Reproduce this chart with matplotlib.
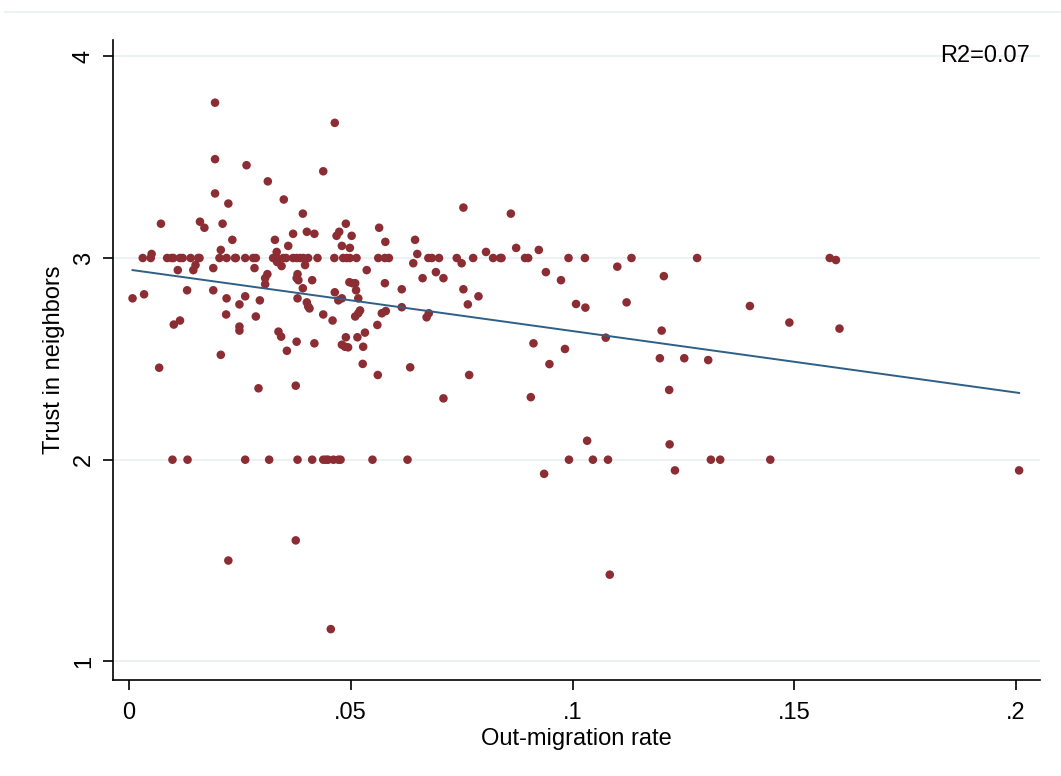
import matplotlib
matplotlib.use("Agg")
import matplotlib.pyplot as plt
from matplotlib.lines import Line2D
import matplotlib.transforms as mtransforms
import numpy as np

# ---- data ----
upper_x = [0.0194, 0.0194, 0.0265, 0.0313, 0.0194, 0.0349, 0.0224, 0.0072, 0.0160, 0.0170,
           0.0211, 0.0370, 0.0233, 0.0329, 0.0359, 0.0207, 0.0333, 0.0051, 0.0464, 0.0438,
           0.0754, 0.0392, 0.0489, 0.0401, 0.0418, 0.0468, 0.0474, 0.0502, 0.0564, 0.0480,
           0.0498, 0.0578, 0.0645, 0.0650, 0.0861, 0.0873, 0.0924, 0.0805]
upper_y = [3.77, 3.49, 3.46, 3.38, 3.32, 3.29, 3.27, 3.17, 3.18, 3.15,
           3.17, 3.12, 3.09, 3.09, 3.06, 3.04, 3.03, 3.02, 3.67, 3.43,
           3.25, 3.22, 3.17, 3.13, 3.12, 3.11, 3.13, 3.11, 3.15, 3.06,
           3.05, 3.08, 3.09, 3.02, 3.22, 3.05, 3.04, 3.03]

row3_x = [0.0031, 0.0049, 0.0086, 0.0096, 0.0100, 0.0115, 0.0121, 0.0139, 0.0156, 0.0159,
          0.0204, 0.0220, 0.0239, 0.0241, 0.0262, 0.0280, 0.0286, 0.0325, 0.0333, 0.0348,
          0.0354, 0.0370, 0.0378, 0.0386, 0.0393, 0.0404, 0.0425, 0.0463, 0.0483, 0.0491,
          0.0498, 0.0513, 0.0562, 0.0577, 0.0586, 0.0675, 0.0683, 0.0699, 0.0739, 0.0776,
          0.0821, 0.0837, 0.0840, 0.0893, 0.0900, 0.0991, 0.1028, 0.1133, 0.1281, 0.1580,
          0.1594]
row3_y = [3.0] * 50 + [2.99]

mid_x = [0.0110, 0.0190, 0.0145, 0.0150, 0.0283, 0.0334, 0.0344, 0.0307, 0.0312, 0.0307,
         0.0378, 0.0382, 0.0413, 0.0397, 0.0380, 0.0641, 0.0750, 0.0536, 0.0662, 0.0692,
         0.0709, 0.0940, 0.0974, 0.1101, 0.1206]
mid_y = [2.94, 2.95, 2.94, 2.965, 2.95, 2.98, 2.96, 2.90, 2.92, 2.87,
         2.90, 2.89, 2.89, 2.965, 2.92, 2.974, 2.974, 2.94, 2.90, 2.93,
         2.90, 2.93, 2.89, 2.957, 2.91]

low_x = [0.0008, 0.0034, 0.0131, 0.0190, 0.0220, 0.0249, 0.0262, 0.0295, 0.0219, 0.0286,
         0.0101, 0.0115, 0.0249, 0.0249, 0.0337, 0.0343, 0.0378, 0.0356, 0.0207, 0.0068,
         0.0292, 0.0376, 0.0392, 0.0380, 0.0401, 0.0404, 0.0407, 0.0438, 0.0459, 0.0418,
         0.0464, 0.0472, 0.0480, 0.0497, 0.0504, 0.0510, 0.0512, 0.0517, 0.0577, 0.0615,
         0.0615, 0.0570, 0.0579, 0.0521, 0.0517, 0.0510, 0.0560, 0.0532, 0.0515, 0.0489,
         0.0480, 0.0487, 0.0494, 0.0528, 0.0527, 0.0561, 0.0634, 0.0767, 0.0709, 0.0671,
         0.0676, 0.0754, 0.0764, 0.0788, 0.1008, 0.1029, 0.1122, 0.1075, 0.1201, 0.0912,
         0.0983, 0.0948, 0.1197, 0.1252, 0.1306, 0.0906, 0.1218, 0.1400, 0.1489, 0.1602]
low_y = [2.80, 2.82, 2.84, 2.84, 2.80, 2.77, 2.81, 2.79, 2.72, 2.71,
         2.67, 2.69, 2.66, 2.64, 2.635, 2.61, 2.585, 2.54, 2.52, 2.456,
         2.354, 2.367, 2.85, 2.80, 2.78, 2.76, 2.75, 2.72, 2.69, 2.577,
         2.83, 2.79, 2.80, 2.88, 2.875, 2.875, 2.84, 2.80, 2.875, 2.845,
         2.756, 2.726, 2.737, 2.74, 2.726, 2.71, 2.668, 2.63, 2.607, 2.607,
         2.57, 2.56, 2.557, 2.56, 2.475, 2.42, 2.458, 2.42, 2.304, 2.706,
         2.726, 2.845, 2.77, 2.81, 2.772, 2.754, 2.78, 2.605, 2.64, 2.577,
         2.549, 2.474, 2.503, 2.503, 2.494, 2.31, 2.346, 2.762, 2.68, 2.65]

row2_x = [0.0098, 0.0132, 0.0262, 0.0316, 0.0380, 0.0413, 0.0438, 0.0444, 0.0449, 0.0461,
          0.0472, 0.0477, 0.0549, 0.0628, 0.0992, 0.1046, 0.1080, 0.1312, 0.1333, 0.1446]
row2_y = [2.0] * 20

bottom_x = [0.0224, 0.0376, 0.0455, 0.0936, 0.1033, 0.1084, 0.1219, 0.1231, 0.2007]
bottom_y = [1.50, 1.60, 1.16, 1.93, 2.094, 1.43, 2.076, 1.947, 1.947]

fit_intercept = 2.9425
fit_slope = -3.047
r2_label = "R2=0.07"

x_ticks = [0, 0.05, 0.1, 0.15, 0.2]
x_ticklabels = ["0", ".05", ".1", ".15", ".2"]
y_ticks = [1, 2, 3, 4]
y_ticklabels = ["1", "2", "3", "4"]
x_label = "Out-migration rate"
y_label = "Trust in neighbors"

# ---- plot ----
plt.rcParams['font.family'] = ['Liberation Sans', 'DejaVu Sans']

x = np.array(upper_x + row3_x + mid_x + low_x + row2_x + bottom_x)
y = np.array(upper_y + row3_y + mid_y + low_y + row2_y + bottom_y)

W, H = 1061, 776
fig = plt.figure(figsize=(W / 100, H / 100), dpi=100)
ax = fig.add_axes([113 / W, 1 - 680 / H, (1040 - 113) / W, (680 - 40) / H])

for t in y_ticks:
    ax.axhline(t, color='#eaf1f3', lw=1.3, zorder=0)

ax.scatter(x, y, s=38, color='#8c2d33', edgecolors='none', zorder=3)

xf = np.array([x.min(), x.max()])
ax.plot(xf, fit_intercept + fit_slope * xf, color='#2e5f86', lw=1.4, zorder=4)

ax.set_xlim((113 - 129) / 4435, (1040 - 129) / 4435)
ax.set_ylim(3 - (680 - 258) / 201.7, 3 + (258 - 40) / 201.7)

ax.set_xticks(x_ticks)
ax.set_xticklabels(x_ticklabels, fontsize=17)
ax.set_yticks(y_ticks)
ax.set_yticklabels(y_ticklabels, fontsize=17, rotation=90, va='center')

for side in ['top', 'right']:
    ax.spines[side].set_visible(False)
for side in ['left', 'bottom']:
    ax.spines[side].set_linewidth(1.2)
    ax.spines[side].set_color('black')
ax.tick_params(axis='both', direction='out', length=7, width=1.2, colors='black')
ax.tick_params(axis='x', pad=9)
ax.tick_params(axis='y', pad=6)

ax.set_xlabel(x_label, fontsize=17, labelpad=3)
ax.set_ylabel(y_label, fontsize=17, labelpad=6)

ax.text(0.989, 4, r2_label,
        transform=mtransforms.blended_transform_factory(ax.transAxes, ax.transData),
        ha='right', va='center', fontsize=17)

fig.add_artist(Line2D([5 / W, 1], [1 - 12 / H, 1 - 12 / H], color='#e7edf0', lw=1.2))

fig.savefig('out.png', dpi=100, facecolor='white')
